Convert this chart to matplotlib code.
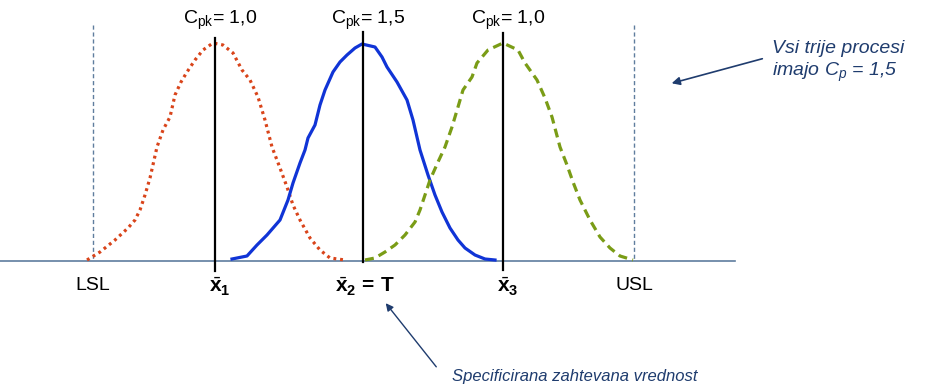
import matplotlib
matplotlib.use("Agg")
import matplotlib.pyplot as plt

plt.rcParams['font.family'] = ['Liberation Sans', 'DejaVu Sans']
plt.rcParams['mathtext.fontset'] = 'custom'
plt.rcParams['mathtext.rm'] = 'Liberation Sans'
plt.rcParams['mathtext.it'] = 'Liberation Sans:italic'
plt.rcParams['mathtext.bf'] = 'Liberation Sans:bold'

# curves (x position, height from top in px)
red_x = [87, 100, 115, 128, 135, 140, 145, 150, 157, 163, 170, 175, 181, 187, 195, 203, 213,
         223, 233, 242, 250, 258, 265, 272, 280, 287, 293, 300, 310, 320, 330, 345]
red_y = [260, 252, 240, 228, 220, 210, 195, 178, 147, 130, 117, 95, 82, 72, 60, 50, 43,
         45, 53, 70, 80, 97, 120, 147, 168, 187, 205, 220, 238, 250, 258, 260]

blue_x = [232, 247, 257, 267, 280, 288, 293, 300, 305, 308, 315, 320, 325, 333, 340, 347, 355,
          362, 375, 382, 387, 397, 407, 413, 420, 428, 435, 442, 450, 458, 465, 475, 485, 495]
blue_y = [259, 256, 245, 235, 220, 200, 183, 163, 150, 138, 125, 105, 90, 72, 62, 55, 48,
          44, 47, 57, 67, 82, 100, 120, 150, 175, 195, 212, 228, 240, 248, 255, 259, 260]

green_x = [365, 375, 385, 395, 405, 415, 420, 425, 430, 438, 445, 452, 458, 463, 472, 477, 488,
           503, 518, 525, 537, 545, 552, 560, 567, 573, 580, 590, 600, 610, 620, 633]
green_y = [260, 258, 252, 245, 235, 222, 210, 195, 180, 162, 147, 127, 107, 90, 77, 63, 50,
           43, 50, 63, 80, 98, 117, 147, 165, 182, 200, 220, 237, 248, 256, 260]

means = [215, 363, 503]
cpk_labels = [r'C$_{\mathrm{pk}}$= 1,0', r'C$_{\mathrm{pk}}$= 1,5', r'C$_{\mathrm{pk}}$= 1,0']
mean_labels = [r'$\bar{\mathbf{x}}_\mathbf{1}$', r'$\bar{\mathbf{x}}_\mathbf{2}$$\mathbf{\,=\,T}$',
               r'$\bar{\mathbf{x}}_\mathbf{3}$']
spec_x = [93, 634]
spec_labels = ['LSL', 'USL']

fig = plt.figure(figsize=(9.35, 3.89), dpi=100)
ax = fig.add_axes([0, 0, 1, 1])
ax.set_xlim(0, 935)
ax.set_ylim(389, 0)
ax.axis('off')

navy = '#1f3c6e'
axis_col = '#5f7d9e'

ax.plot([0, 735], [261, 261], color=axis_col, lw=1.2)
for sx in spec_x:
    ax.plot([sx, sx], [25, 261], color=axis_col, lw=1.0, dashes=(3, 2))

ax.plot(red_x, red_y, color='#d9441a', lw=2.3, dashes=(0.9, 1.2))
ax.plot(blue_x, blue_y, color='#1034d6', lw=2.3)
ax.plot(green_x, green_y, color='#7a9c16', lw=2.3, dashes=(2.8, 1.7))

tops = [38, 32, 33]
bottoms = [271, 262, 270]
for m, t, b in zip(means, tops, bottoms):
    ax.plot([m, m], [t, b], color='black', lw=1.6)

for m, lab in zip(means, cpk_labels):
    ax.text(m + 5, 20, lab, ha='center', va='center', fontsize=14)

for sx, lab in zip(spec_x, spec_labels):
    ax.text(sx, 285, lab, ha='center', va='center', fontsize=14)

mx = [220, 362, 508]
for x, lab in zip(mx, mean_labels):
    ha = 'center' if '=' not in lab else 'left'
    xx = x if ha == 'center' else x - 27
    ax.text(xx, 287, lab, ha=ha, va='center', fontsize=15)

ax.text(772, 48, 'Vsi trije procesi', color=navy, fontsize=14, style='italic',
        ha='left', va='center')
ax.text(772, 72, r'imajo $C_p$ = 1,5', color=navy, fontsize=14, style='italic',
        ha='left', va='center')
ax.annotate('', xy=(669, 84), xytext=(765, 58),
            arrowprops=dict(arrowstyle='-|>', color=navy, lw=1.2, mutation_scale=12))

ax.text(452, 376, 'Specificirana zahtevana vrednost', color=navy, fontsize=12,
        style='italic', ha='left', va='center')
ax.annotate('', xy=(384, 301), xytext=(438, 369),
            arrowprops=dict(arrowstyle='-|>', color=navy, lw=1.0, mutation_scale=11))

fig.savefig('out.png', dpi=100)
